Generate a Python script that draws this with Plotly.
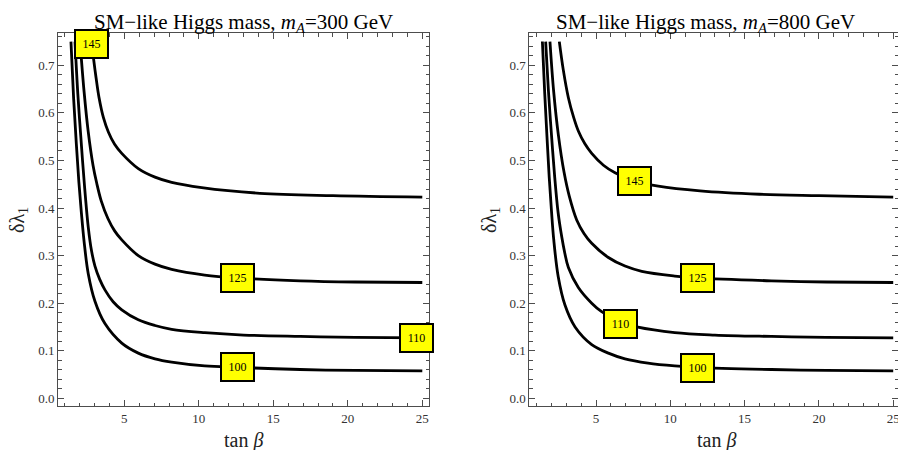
import plotly.graph_objects as go

# ---------------- data ----------------
levels = [100, 110, 125, 145]

# m_A = 300 GeV panel
L100_t = [1.42, 1.60, 1.78, 1.95, 2.12, 2.30, 2.58, 3.03, 3.70, 4.83, 5.94, 7.06, 8.18, 10.4, 12.6, 16.8, 20.5, 25.0]
L100_d = [0.75, 0.63, 0.535, 0.455, 0.39, 0.33, 0.262, 0.204, 0.157, 0.116, 0.095, 0.083, 0.076, 0.068, 0.065, 0.0605, 0.0585, 0.0575]
L110_t = [1.69, 1.88, 2.08, 2.32, 2.58, 2.80, 3.03, 3.35, 3.70, 4.25, 4.83, 5.94, 7.06, 8.18, 10.4, 13.0, 16.8, 20.5, 25.0]
L110_d = [0.75, 0.64, 0.55, 0.45, 0.36, 0.31, 0.278, 0.25, 0.228, 0.203, 0.186, 0.165, 0.153, 0.145, 0.138, 0.133, 0.130, 0.128, 0.127]
L125_t = [2.03, 2.30, 2.58, 2.90, 3.15, 3.45, 3.90, 4.35, 4.83, 5.94, 7.06, 8.18, 10.4, 12.6, 16.8, 20.5, 25.0]
L125_d = [0.75, 0.645, 0.56, 0.49, 0.452, 0.415, 0.378, 0.352, 0.333, 0.300, 0.282, 0.271, 0.259, 0.253, 0.247, 0.2445, 0.2434]
L145_t = [2.80, 2.92, 3.10, 3.30, 3.60, 3.93, 4.35, 4.83, 5.94, 7.06, 8.18, 10.2, 14.1, 19.0, 25.0]
L145_d = [0.75, 0.718, 0.675, 0.633, 0.590, 0.560, 0.534, 0.515, 0.483, 0.465, 0.454, 0.443, 0.431, 0.426, 0.423]

# m_A = 800 GeV panel
R100_t = [1.39, 1.55, 1.70, 1.85, 2.00, 2.15, 2.46, 2.91, 3.59, 4.71, 5.83, 6.95, 8.5, 10.3, 11.8, 16.8, 20.5, 25.0]
R100_d = [0.75, 0.64, 0.55, 0.465, 0.395, 0.335, 0.255, 0.196, 0.150, 0.113, 0.095, 0.083, 0.074, 0.068, 0.065, 0.0605, 0.0585, 0.0575]
R110_t = [1.61, 1.80, 2.00, 2.22, 2.45, 2.69, 2.90, 3.14, 3.81, 4.71, 5.38, 6.62, 7.74, 10.3, 13.0, 16.8, 20.5, 25.0]
R110_d = [0.75, 0.645, 0.555, 0.465, 0.39, 0.34, 0.305, 0.275, 0.233, 0.200, 0.182, 0.160, 0.150, 0.138, 0.133, 0.130, 0.128, 0.127]
R125_t = [1.90, 2.15, 2.46, 2.85, 3.20, 3.70, 4.20, 4.71, 5.83, 6.95, 8.08, 10.3, 11.8, 16.8, 20.5, 25.0]
R125_d = [0.75, 0.645, 0.555, 0.475, 0.425, 0.375, 0.346, 0.326, 0.296, 0.278, 0.267, 0.257, 0.253, 0.247, 0.2445, 0.2434]
R145_t = [2.53, 2.80, 3.14, 3.50, 3.81, 4.25, 4.71, 5.50, 6.28, 7.56, 9.19, 12.0, 16.0, 20.0, 25.0]
R145_d = [0.75, 0.69, 0.632, 0.59, 0.562, 0.535, 0.515, 0.49, 0.474, 0.457, 0.446, 0.436, 0.429, 0.426, 0.423]

# contour label positions (tan beta, delta lambda_1), same order as levels
L_lab_t = [12.63, 24.6, 12.63, 2.80]
L_lab_d = [0.066, 0.127, 0.253, 0.745]
R_lab_t = [11.84, 6.62, 11.8, 7.56]
R_lab_d = [0.064, 0.156, 0.253, 0.456]

titles = ["SM\u2212like Higgs mass, <i>m</i><sub><i>A</i></sub>=300 GeV",
          "SM\u2212like Higgs mass, <i>m</i><sub><i>A</i></sub>=800 GeV"]
xlabel = "tan <i>\u03b2</i>"
ylabel = "\u03b4\u03bb<sub>1</sub>"

# ---------------- figure ----------------
W, H = 898, 450
FONT = "Liberation Serif"
AX = "#4d4d4d"

fig = go.Figure()
left = [(L100_t, L100_d), (L110_t, L110_d), (L125_t, L125_d), (L145_t, L145_d)]
right = [(R100_t, R100_d), (R110_t, R110_d), (R125_t, R125_d), (R145_t, R145_d)]
for xa, ya, curves in (("x", "y", left), ("x2", "y2", right)):
    for (t, d) in curves:
        fig.add_trace(go.Scatter(x=t, y=d, mode="lines", xaxis=xa, yaxis=ya,
                                 line=dict(color="black", width=2.8, shape="spline", smoothing=1.0),
                                 showlegend=False, hoverinfo="skip"))

def common():
    return dict(ticks="inside", ticklen=6, tickwidth=1, tickcolor=AX,
                showline=True, linecolor=AX, linewidth=1, mirror="ticks",
                showgrid=False, zeroline=False, automargin=False,
                ticklabeloverflow="allow",
                tickfont=dict(family=FONT, size=13, color="#333333"))

def xax(domain, rng, anchor):
    d = common()
    d.update(domain=domain, range=rng, anchor=anchor, tick0=0, dtick=5,
             minor=dict(dtick=1, tick0=0, ticks="inside", ticklen=3.5, tickcolor=AX, tickwidth=1))
    return d

def yax(domain, rng, anchor):
    d = common()
    d.update(domain=domain, range=rng, anchor=anchor, tick0=0, dtick=0.1, tickformat=".1f",
             minor=dict(dtick=0.02, tick0=0, ticks="inside", ticklen=3.5, tickcolor=AX, tickwidth=1))
    return d

ydom = [(H - 406) / H, (H - 33) / H]
yrng = [-0.0162, 0.768]
fig.update_layout(
    width=W, height=H, margin=dict(l=0, r=0, t=0, b=0),
    paper_bgcolor="white", plot_bgcolor="white",
    xaxis=xax([58 / W, 429 / W], [0.55, 25.45], "y"),
    yaxis=yax(ydom, yrng, "x"),
    xaxis2=xax([529.3 / W, 1.0], [0.51, 0.51 + (W - 529.3) / 14.86], "y2"),
    yaxis2=yax(ydom, yrng, "x2"),
)

anns = []
for xa, ya, lt, ld in (("x", "y", L_lab_t, L_lab_d), ("x2", "y2", R_lab_t, R_lab_d)):
    for lev, t, d in zip(levels, lt, ld):
        anns.append(dict(x=t, y=d, xref=xa, yref=ya, text=str(lev), showarrow=False,
                         font=dict(family=FONT, size=12, color="black"),
                         bgcolor="#ffff00", bordercolor="black", borderwidth=2, borderpad=1,
                         width=29, height=24))

for cx, ttl, ycx, xlx in ((243.5, titles[0], 18, 243.5), (705.7, titles[1], 490, 716)):
    anns.append(dict(x=cx / W, y=1 - 23 / H, xref="paper", yref="paper", text=ttl, showarrow=False,
                     xanchor="center", yanchor="middle", font=dict(family=FONT, size=21, color="black")))
    anns.append(dict(x=xlx / W, y=-4 / H, xref="paper", yref="paper", text=xlabel, showarrow=False,
                     xanchor="center", yanchor="bottom", font=dict(family=FONT, size=20, color="#222222")))
    anns.append(dict(x=ycx / W, y=1 - 220 / H, xref="paper", yref="paper", text=ylabel, showarrow=False,
                     textangle=-90, xanchor="center", yanchor="middle",
                     font=dict(family=FONT, size=20, color="#222222")))

fig.update_layout(annotations=anns)
fig.write_html("out.html")
